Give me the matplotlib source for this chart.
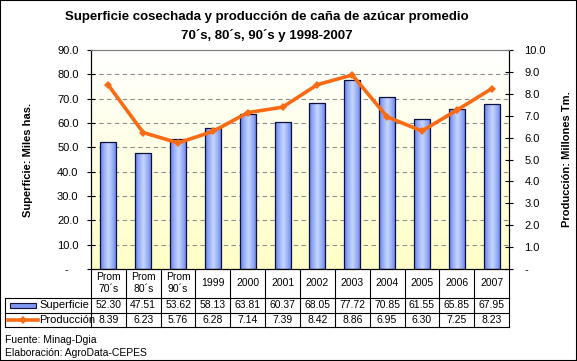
import numpy as np
import matplotlib.pyplot as plt
from matplotlib.lines import Line2D
from matplotlib.patches import Rectangle
from matplotlib.transforms import blended_transform_factory

plt.rcParams['font.family'] = ['Liberation Sans', 'DejaVu Sans']

# datos
periodos = ['Prom\n70´s', 'Prom\n80´s', 'Prom\n90´s', '1999', '2000', '2001',
            '2002', '2003', '2004', '2005', '2006', '2007']
superficie = [52.30, 47.51, 53.62, 58.13, 63.81, 60.37, 68.05, 77.72, 70.85, 61.55, 65.85, 67.95]
produccion = [8.39, 6.23, 5.76, 6.28, 7.14, 7.39, 8.42, 8.86, 6.95, 6.30, 7.25, 8.23]

W, H = 577, 361
fig = plt.figure(figsize=(W / 100, H / 100), dpi=100)

def fx(px):
    return px / W

def fy(py):
    return 1 - py / H

x0, x1, y0, y1 = 91, 509, 50, 269
ax = fig.add_axes([fx(x0), fy(y1), fx(x1 - x0), (y1 - y0) / H])
ax2 = ax.twinx()

x = np.arange(len(periodos))
ax.set_xlim(-0.5, len(periodos) - 0.5)
ax.set_ylim(0, 90)
ax2.set_ylim(0, 10)

# fondo degradado blanco -> amarillo
grad = np.linspace(0, 1, 256).reshape(-1, 1)
top = np.array([1.0, 1.0, 1.0])
bot = np.array([1.0, 1.0, 0.78])
bg = top + (bot - top) * grad[:, :, None]
ax.imshow(bg, extent=(0, 1, 0, 1), transform=ax.transAxes, aspect='auto', zorder=0)

# barras con degradado horizontal
bars = ax.bar(x, superficie, width=0.46, color='none', edgecolor='#101040', linewidth=0.9, zorder=3)
t = np.linspace(-1, 1, 64)
edge_c = np.array([0.36, 0.48, 0.92])
mid_c = np.array([0.78, 0.84, 1.0])
w = (1 - np.abs(t)) ** 0.8
bar_img = (edge_c + (mid_c - edge_c) * w[:, None]).reshape(1, -1, 3)
for b in bars:
    im = ax.imshow(bar_img, extent=(b.get_x(), b.get_x() + b.get_width(), 0, b.get_height()),
                   aspect='auto', zorder=2)
    im.set_clip_path(b)

ax.set_xticks([])
ax.set_yticks(np.arange(0, 91, 10))
ax.set_yticklabels(['-   '] + ['%.1f' % v for v in range(10, 91, 10)])
for v in range(10, 90, 10):
    ax.axhline(v, color='#909090', linestyle=(0, (4, 3)), linewidth=0.8, zorder=1)

ax2.plot(x, produccion, color='#f86a14', linewidth=2.6, marker='D', markersize=4,
         markeredgewidth=0, zorder=5)
ax2.set_yticks(np.arange(0, 11, 1))
ax2.set_yticklabels(['-'] + ['%.1f' % v for v in range(1, 11)])
ax2.set_zorder(ax.get_zorder() + 1)
ax2.patch.set_visible(False)

for a in (ax, ax2):
    a.spines['top'].set_color('#808080')
    a.spines['bottom'].set_color('black')
    a.spines['left'].set_color('black')
    a.spines['right'].set_color('black')
ax.tick_params(axis='y', direction='inout', length=6, width=0.8, labelsize=8, pad=6)
ax2.tick_params(axis='y', direction='inout', length=6, width=0.8, labelsize=8, pad=8)

ax.set_ylabel('Superficie: Miles has.', fontsize=8, fontweight='bold', labelpad=17)
ax2.set_ylabel('Producción: Millones Tm.', fontsize=8, fontweight='bold', labelpad=12)

fig.text(fx(267), fy(17), 'Superficie cosechada y producción de caña de azúcar promedio',
         ha='center', va='center', fontsize=9.5, fontweight='bold')
fig.text(fx(267), fy(36), '70´s, 80´s, 90´s y 1998-2007',
         ha='center', va='center', fontsize=9.5, fontweight='bold')

# tabla de datos
tr = blended_transform_factory(ax.transData, fig.transFigure)
ftr = fig.transFigure
r0, r1, r2, r3 = 269, 298, 313, 327
lk = dict(color='black', linewidth=0.8, clip_on=False)
for i in range(len(periodos) + 1):
    fig.add_artist(Line2D([i - 0.5, i - 0.5], [fy(r0), fy(r3)], transform=tr, **lk))
for r in (r1, r2, r3):
    fig.add_artist(Line2D([fx(5), fx(x1)], [fy(r), fy(r)], transform=ftr, **lk))
fig.add_artist(Line2D([fx(5), fx(5)], [fy(r1), fy(r3)], transform=ftr, **lk))

for i, p in enumerate(periodos):
    fig.text(i, fy((r0 + r1) / 2), p, transform=tr, ha='center', va='center', fontsize=7.5,
             linespacing=1.25)
    fig.text(i, fy((r1 + r2) / 2), '%.2f' % superficie[i], transform=tr, ha='center',
             va='center', fontsize=7.5)
    fig.text(i, fy((r2 + r3) / 2), '%.2f' % produccion[i], transform=tr, ha='center',
             va='center', fontsize=7.5)

# claves de la leyenda
fig.add_artist(Rectangle((fx(10), fy(308)), fx(26), 5 / H, transform=ftr,
                         facecolor='#7f97f0', edgecolor='#101040', linewidth=0.8))
fig.add_artist(Line2D([fx(8), fx(38)], [fy(320), fy(320)], transform=ftr, color='#f86a14',
                      linewidth=2.6))
fig.add_artist(Line2D([fx(23)], [fy(320)], transform=ftr, color='#f86a14', marker='D',
                      markersize=4, markeredgewidth=0))
fig.text(fx(39), fy((r1 + r2) / 2), 'Superficie', ha='left', va='center', fontsize=8)
fig.text(fx(39), fy((r2 + r3) / 2), 'Producción', ha='left', va='center', fontsize=8)

fig.text(fx(5), fy(340), 'Fuente: Minag-Dgia', ha='left', va='center', fontsize=7.5)
fig.text(fx(5), fy(353), 'Elaboración: AgroData-CEPES', ha='left', va='center', fontsize=7.5)

# marco exterior
fig.add_artist(Rectangle((0, 0), 1, 1, transform=ftr, fill=False, edgecolor='black',
                         linewidth=1.5))

fig.savefig('out.png', dpi=100)
